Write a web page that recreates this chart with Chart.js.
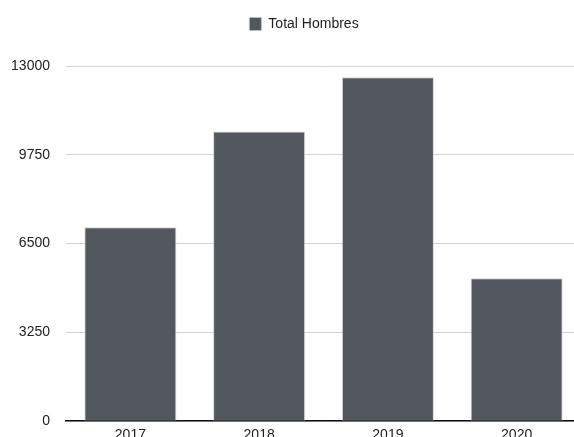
<!DOCTYPE html>
<html>
<head>
<meta charset="utf-8">
<script src="https://cdn.jsdelivr.net/npm/chart.js@4/dist/chart.umd.min.js"></script>
<style>
  html, body { margin: 0; padding: 0; background: #fff; overflow: hidden; }
  #wrap { position: relative; width: 604px; height: 454px; }
</style>
</head>
<body>
<div id="wrap"><canvas id="chartHombres"></canvas></div>
<script>
// Data
const YEARS = ['2017', '2018', '2019', '2020'];
const TOTAL_HOMBRES = [7100, 10600, 12590, 5230];
const Y_TICKS = [0, 3250, 6500, 9750, 13000];

const BAR_COLOR = '#53575e';
const FONT = { family: '"Liberation Sans", Arial, Helvetica, sans-serif', size: 14 };

/** Legend: extra gap below it, and centred on the full canvas width */
const legendTweaks = {
  id: 'legendTweaks',
  beforeInit(chart) {
    if (!chart.legend) return;
    const fit = chart.legend.fit;
    chart.legend.fit = function () {
      fit.call(this);
      this.height += 25;
    };
  },
  afterLayout(chart) {
    if (chart.legend) chart.legend.right = chart.width + 4;
  }
};

new Chart(document.getElementById('chartHombres'), {
  type: 'bar',
  data: {
    labels: YEARS,
    datasets: [{
      label: 'Total Hombres',
      data: TOTAL_HOMBRES,
      backgroundColor: BAR_COLOR,
      borderColor: 'rgba(190,194,198,0.7)',
      borderWidth: 1,
      categoryPercentage: 1,
      barPercentage: 0.715
    }]
  },
  options: {
    responsive: true,
    maintainAspectRatio: false,
    animation: false,
    layout: { padding: { top: 0, right: 23, bottom: 4, left: 0 } },
    scales: {
      x: {
        grid: { display: false, drawTicks: false },
        border: { display: true, color: '#111', width: 1.5 },
        ticks: { color: '#222', font: FONT, padding: 6, maxRotation: 0 }
      },
      y: {
        min: 0,
        max: 13000,
        afterBuildTicks: axis => { axis.ticks = Y_TICKS.map(v => ({ value: v })); },
        afterFit: axis => { axis.width = 66; },
        grid: { color: '#d2d2d2', drawTicks: false },
        border: { display: false },
        ticks: { color: '#222', font: FONT, padding: 16, callback: v => String(v) }
      }
    },
    plugins: {
      legend: {
        display: true,
        position: 'top',
        labels: {
          color: '#222',
          font: FONT,
          boxWidth: 12,
          boxHeight: 13,
          padding: 17
        }
      },
      tooltip: { enabled: false }
    }
  },
  plugins: [legendTweaks]
});
</script>
</body>
</html>
